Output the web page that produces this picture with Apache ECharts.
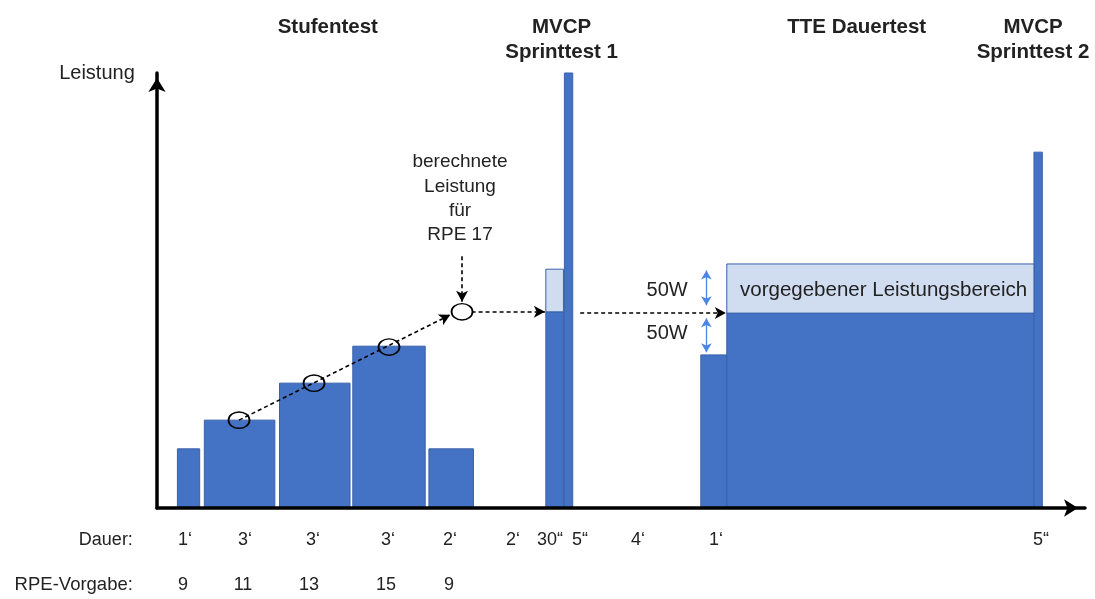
<!DOCTYPE html>
<html><head><meta charset="utf-8">
<script src="https://cdn.jsdelivr.net/npm/echarts@6/dist/echarts.min.js"></script>
<style>html,body{margin:0;padding:0;background:#fff}#c{width:1095px;height:599px}</style>
</head><body><div id="c"></div>
<script>
// ---- data (schematic units: x = time axis 0..100, y = Leistung 0..100)
const barStart = [2.2, 5.1, 13.2, 21.1, 29.3, 41.9, 43.9, 58.6, 61.4, 94.5];
const barEnd   = [4.6, 12.7, 20.8, 28.9, 34.1, 43.8, 44.8, 61.4, 94.5, 95.4];
const barPower = [13.6, 20.2, 28.7, 37.2, 13.6, 45.1, 100, 35.2, 44.8, 81.8];

const bandStart = [41.9, 61.4];
const bandEnd   = [43.8, 94.5];
const bandLow   = [45.1, 44.8];
const bandHigh  = [54.9, 56.1];

const markerX = [8.84, 16.92, 25.0, 32.87];
const markerY = [20.2, 28.7, 37.0, 45.1];
const markerFilled = [false, false, false, true];

const dauerLabels = ['1‘', '3‘', '3‘', '3‘', '2‘', '2‘', '30“', '5“', '4‘', '1‘', '5“'];
const dauerPos    = [3.02, 9.48, 16.81, 24.89, 31.57, 38.36, 42.35, 45.58, 51.83, 60.24, 95.26];
const rpeLabels = ['9', '11', '13', '15', '9'];
const rpePos    = [2.80, 9.27, 16.38, 24.68, 31.47];

const phaseTitles = ['Stufentest', 'MVCP\nSprinttest 1', 'TTE Dauertest', 'MVCP\nSprinttest 2'];
const phasePos    = [18.4, 43.6, 75.4, 94.4];

const FONT = '"Liberation Sans", Arial, sans-serif';
const dark = '#4472C4', light = '#D0DCF0', edge = '#3A62AA';

// text items built from the arrays above
const texts = [];
phaseTitles.forEach((t, i) => {
  t.split('\n').forEach((line, j) => {
    texts.push({x: phasePos[i], y: j === 0 ? 110.6 : 104.8, t: line, bold: true, size: 20.5, align: 'center'});
  });
});
texts.push({x: -6.47, y: 100.0, t: 'Leistung', size: 20, align: 'center'});
['berechnete', 'Leistung', 'für', 'RPE 17'].forEach((l, i) =>
  texts.push({x: 32.65, y: [79.5, 73.8, 68.3, 62.8][i], t: l, size: 19, align: 'center'}));
texts.push({x: 54.97, y: 49.9, t: '50W', size: 20, align: 'center'});
texts.push({x: 54.97, y: 40.2, t: '50W', size: 20, align: 'center'});
texts.push({x: 78.3, y: 50.1, t: 'vorgegebener Leistungsbereich', size: 20.5, align: 'center'});
texts.push({x: -2.6, y: -7.36, t: 'Dauer:', size: 18, align: 'right'});
dauerLabels.forEach((l, i) => texts.push({x: dauerPos[i], y: -7.36, t: l, size: 18, align: 'center'}));
texts.push({x: -2.6, y: -17.7, t: 'RPE-Vorgabe:', size: 18.5, align: 'right'});
rpeLabels.forEach((l, i) => texts.push({x: rpePos[i], y: -17.7, t: l, size: 18, align: 'center'}));

const dashArrow = {type: [4, 3], color: '#000', width: 1.6};
const blueArrow = {type: 'solid', color: '#4A86E8', width: 1.3};

const chart = echarts.init(document.getElementById('c'));
chart.setOption({
  animation: false,
  grid: {left: 157, top: 73, right: 10, bottom: 91},
  xAxis: {
    type: 'value', min: 0, max: 100, z: 10,
    axisLine: {show: true, symbol: ['none', 'arrow'], symbolSize: [13, 14], symbolOffset: [0, -7],
      lineStyle: {color: '#000', width: 3.5}},
    axisTick: {show: false}, axisLabel: {show: false}, splitLine: {show: false}
  },
  yAxis: {
    type: 'value', min: 0, max: 100, z: 10,
    axisLine: {show: true, symbol: ['none', 'arrow'], symbolSize: [13, 14], symbolOffset: [0, -5],
      lineStyle: {color: '#000', width: 3.5}},
    axisTick: {show: false}, axisLabel: {show: false}, splitLine: {show: false}
  },
  series: [
    {
      type: 'custom', name: 'bars', clip: false, z: 2,
      data: barStart.map((s, i) => [s, barEnd[i], barPower[i]]),
      encode: {x: [0, 1], y: 2},
      renderItem(params, api) {
        const p0 = api.coord([api.value(0), 0]);
        const p1 = api.coord([api.value(1), api.value(2)]);
        return {type: 'rect', shape: {x: p0[0], y: p1[1], width: p1[0] - p0[0], height: p0[1] - p1[1]},
          style: {fill: dark, stroke: edge, lineWidth: 1}};
      }
    },
    {
      type: 'custom', name: 'bands', clip: false, z: 3,
      data: bandStart.map((s, i) => [s, bandEnd[i], bandLow[i], bandHigh[i]]),
      encode: {x: [0, 1], y: [2, 3]},
      renderItem(params, api) {
        const p0 = api.coord([api.value(0), api.value(2)]);
        const p1 = api.coord([api.value(1), api.value(3)]);
        return {type: 'rect', shape: {x: p0[0], y: p1[1], width: p1[0] - p0[0], height: p0[1] - p1[1]},
          style: {fill: light, stroke: edge, lineWidth: 1}};
      },
      markLine: {
        silent: true, symbol: ['none', 'arrow'], symbolSize: [9, 11], label: {show: false},
        data: [
          [{coord: [8.84, 20.2], lineStyle: dashArrow}, {coord: [31.6, 44.4]}],
          [{coord: [32.87, 57.9], lineStyle: dashArrow}, {coord: [32.87, 47.4]}],
          [{coord: [33.9, 45.1], lineStyle: dashArrow}, {coord: [41.8, 45.1]}],
          [{coord: [45.6, 44.8], lineStyle: dashArrow}, {coord: [61.3, 44.8]}]
        ]
      }
    },
    {
      type: 'custom', name: 'ranges', clip: false, z: 4,
      data: [],
      renderItem() { return null; },
      markLine: {
        silent: true, symbol: ['arrow', 'arrow'], symbolSize: [8, 9], label: {show: false},
        data: [
          [{coord: [59.2, 54.6], lineStyle: blueArrow}, {coord: [59.2, 46.6]}],
          [{coord: [59.2, 43.6], lineStyle: blueArrow}, {coord: [59.2, 35.8]}]
        ]
      }
    },
    {
      type: 'custom', name: 'markers', clip: false, z: 5,
      data: markerX.map((x, i) => [x, markerY[i]]),
      renderItem(params, api) {
        const p = api.coord([api.value(0), api.value(1)]);
        return {type: 'circle', x: p[0], y: p[1], scaleY: 0.78, shape: {cx: 0, cy: 0, r: 10.5},
          style: {fill: markerFilled[params.dataIndex] ? '#fff' : 'rgba(0,0,0,0)', stroke: '#000', lineWidth: 1.8}};
      }
    },
    {
      type: 'custom', name: 'texts', clip: false, z: 6,
      data: texts.map(t => [t.x, t.y]),
      renderItem(params, api) {
        const it = texts[params.dataIndex];
        const p = api.coord([api.value(0), api.value(1)]);
        return {type: 'text', x: p[0], y: p[1],
          style: {text: it.t, fill: '#222', align: it.align, verticalAlign: 'middle',
            font: (it.bold ? 'bold ' : '') + it.size + 'px ' + FONT}};
      }
    }
  ]
});
</script></body></html>
